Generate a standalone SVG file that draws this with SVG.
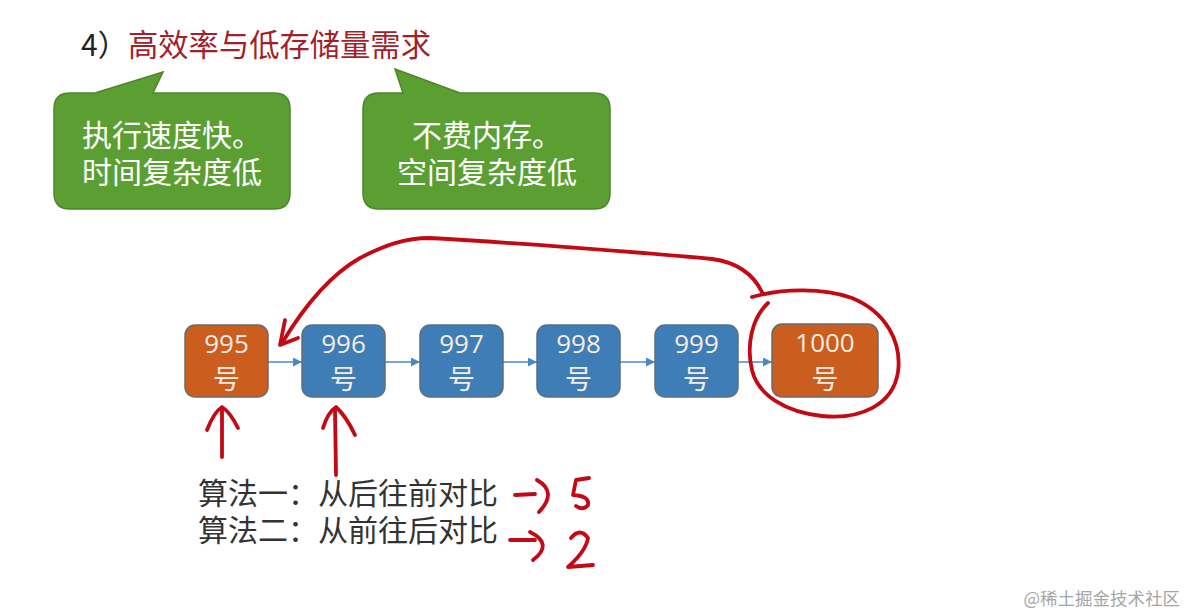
<svg xmlns="http://www.w3.org/2000/svg" width="1187" height="615" viewBox="0 0 1187 615">
<style>
.cjk{font-family:"Noto Sans CJK SC","Noto Sans",sans-serif}
.bubble{fill:#5B9F33;stroke:#4C8629;stroke-width:1.5}
.btxt{font-family:"Noto Sans CJK SC",sans-serif;font-size:30px;fill:#FFFFFF;text-anchor:middle}
.org{fill:#CB5D1E;stroke:#6C6A6A;stroke-width:1.5}
.blu{fill:#3F7DB6;stroke:#5B6F84;stroke-width:1.5}
.num{font-family:"Open Sans","Noto Sans",sans-serif;font-size:26px;fill:#F4ECE2;text-anchor:middle}
.hao{font-family:"Noto Sans CJK SC",sans-serif;font-size:27px;fill:#F4ECE2;text-anchor:middle}
.conn{stroke:#4A88C2;stroke-width:1.6;fill:none;marker-end:url(#ah)}
.ink{stroke:#C30A14;stroke-width:3.8;fill:none;stroke-linecap:round;stroke-linejoin:round}
.alg{font-family:"Noto Sans CJK SC",sans-serif;font-size:30px;fill:#333333}
</style>
<defs>
<marker id="ah" viewBox="0 0 10 10" refX="10" refY="5" markerWidth="9" markerHeight="9" markerUnits="userSpaceOnUse" orient="auto">
<path d="M0,0 L10,5 L0,10 Z" fill="#4A88C2"/>
</marker>
</defs>
<rect width="1187" height="615" fill="#FFFFFF"/>
<g id="title">
<text class="cjk" x="81" y="56" font-size="30" fill="#222222">4）</text>
<text class="cjk" x="128" y="56" font-size="30.3" fill="#A31F2A">高效率与低存储量需求</text>
</g>
<g id="callout-time">
<path class="bubble" d="M70,93 L95,93 L163,72 L153,93 L274,93 Q290,93 290,109 L290,193 Q290,209 274,209 L70,209 Q54,209 54,193 L54,109 Q54,93 70,93 Z"/>
<text class="btxt" x="172" y="146">执行速度快。</text>
<text class="btxt" x="172" y="183">时间复杂度低</text>
</g>
<g id="callout-space">
<path class="bubble" d="M379,93 L403,93 L395,69 L460,93 L594,93 Q610,93 610,109 L610,193 Q610,209 594,209 L379,209 Q363,209 363,193 L363,109 Q363,93 379,93 Z"/>
<text class="btxt" x="487" y="146">不费内存。</text>
<text class="btxt" x="487" y="183">空间复杂度低</text>
</g>
<g id="connectors">
<line class="conn" x1="268" y1="362" x2="302" y2="362"/>
<line class="conn" x1="385" y1="362" x2="420" y2="362"/>
<line class="conn" x1="503" y1="362" x2="537" y2="362"/>
<line class="conn" x1="620" y1="362" x2="655" y2="362"/>
<line class="conn" x1="738" y1="362" x2="772" y2="362"/>
</g>
<g id="n995">
<rect class="org" x="185" y="325" width="83" height="72" rx="10"/>
<text class="num" x="226.5" y="353">995</text>
<text class="hao" x="226.5" y="389">号</text>
</g>
<g id="n996">
<rect class="blu" x="302" y="325" width="83" height="72" rx="10"/>
<text class="num" x="343.5" y="353">996</text>
<text class="hao" x="343.5" y="389">号</text>
</g>
<g id="n997">
<rect class="blu" x="420" y="325" width="83" height="72" rx="10"/>
<text class="num" x="461.5" y="353">997</text>
<text class="hao" x="461.5" y="389">号</text>
</g>
<g id="n998">
<rect class="blu" x="537" y="325" width="83" height="72" rx="10"/>
<text class="num" x="578.5" y="353">998</text>
<text class="hao" x="578.5" y="389">号</text>
</g>
<g id="n999">
<rect class="blu" x="655" y="325" width="83" height="72" rx="10"/>
<text class="num" x="696.5" y="353">999</text>
<text class="hao" x="696.5" y="389">号</text>
</g>
<g id="n1000">
<rect class="org" x="772" y="324" width="106" height="73" rx="10"/>
<text class="num" x="825" y="352">1000</text>
<text class="hao" x="825" y="389">号</text>
</g>
<g id="algorithms">
<text class="alg" x="198" y="504">算法一：从后往前对比</text>
<text class="alg" x="198" y="541">算法二：从前往后对比</text>
</g>
<g id="annotations">
<path class="ink" d="M762,292 C752,272 735,262 712,259 C640,252 500,242 430,238 C405,238 385,245 360,258 C330,275 305,305 282,343"/>
<path class="ink" d="M285,320 L280,345 L298,338"/>
<path class="ink" d="M752,297 C780,289 822,287 852,298 C886,312 902,342 898,372 C893,405 860,420 822,416 C785,412 758,395 752,370 C746,345 752,318 768,303"/>
<path class="ink" d="M222,457 L222,409"/>
<path class="ink" d="M207,430 Q214,412 222,407 Q230,412 238,428"/>
<path class="ink" d="M336,475 L335,410"/>
<path class="ink" d="M323,428 Q328,412 336,407 Q346,416 355,435"/>
<path class="ink" d="M515,495 L535,494"/>
<path class="ink" d="M537,480 Q558,492 539,512"/>
<path class="ink" d="M589,478 L576,480 L573,495 Q590,496 588,505 Q583,511 576,506"/>
<path class="ink" d="M510,540 L535,540"/>
<path class="ink" d="M530,532 Q554,544 533,560"/>
<path class="ink" d="M571,538 Q580,527 588,538 Q586,551 568,567 L593,565"/>
</g>
<g id="watermark">
<text class="cjk" x="1180" y="605" font-size="17.5" fill="#A6A6A6" text-anchor="end">@稀土掘金技术社区</text>
</g>
</svg>
